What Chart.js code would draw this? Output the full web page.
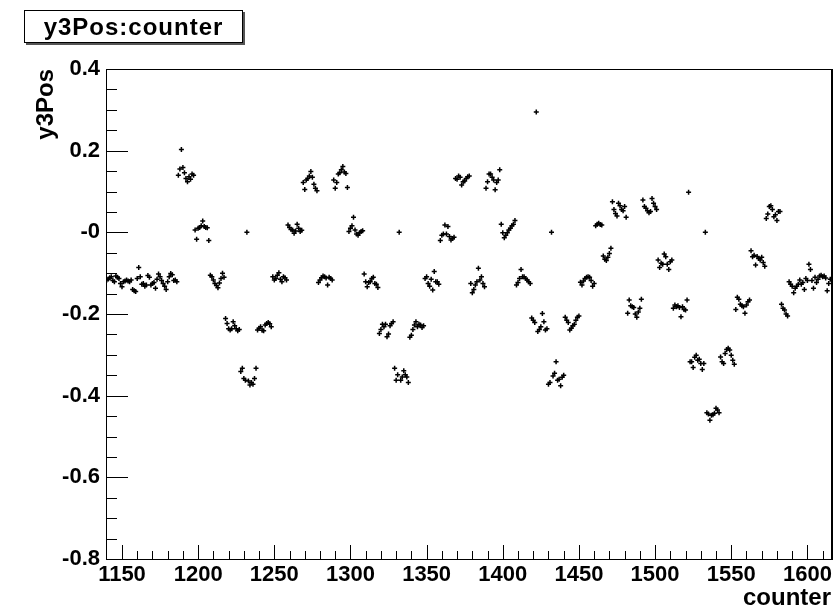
<!DOCTYPE html>
<html>
<head>
<meta charset="utf-8">
<script src="https://cdn.jsdelivr.net/npm/chart.js@4.4.0/dist/chart.umd.min.js"></script>
<style>
body { margin: 0; background: #fff; }
#wrap { position: relative; width: 840px; height: 613px; }
#title {
	position: absolute; left: 24px; top: 10px; width: 217px; height: 31px;
	border: 1px solid #000; box-shadow: 2px 2px 0 #555; background: #fff;
	font: bold 24px "Liberation Sans", Arial, sans-serif; letter-spacing: 1px;
	text-align: center; line-height: 31px;
}
</style>
</head>
<body>
<div id="wrap">
	<canvas id="myChart"></canvas>
	<div id="title">y3Pos:counter</div>
</div>
<script>
// tree entries: one y3Pos value per counter, starting at firstCounter
const firstCounter = 1140;
const y3Pos = [
	// 1140
	-0.117,-0.114,-0.111,-0.109,-0.118,-0.121,-0.107,-0.110,-0.113,-0.125,
	-0.133,-0.121,-0.119,-0.117,-0.119,-0.121,-0.117,-0.140,-0.143,-0.145,
	-0.113,-0.086,-0.109,-0.127,-0.125,-0.132,-0.129,-0.106,-0.110,-0.129,
	-0.125,-0.123,-0.137,-0.115,-0.102,-0.109,-0.118,-0.125,-0.132,-0.140,
	-0.121,-0.109,-0.101,-0.104,-0.118,-0.117,-0.121,
	// 1187
	0.140,0.155,0.203,0.159,0.146,0.132,0.124,0.136,0.130,0.143,0.140,
	// 1198
	0.006,-0.017,0.010,0.012,0.016,0.028,0.014,0.012,0.011,-0.020,
	-0.105,-0.109,-0.117,-0.125,-0.130,-0.136,-0.124,-0.113,-0.100,-0.110,
	-0.211,-0.223,-0.236,-0.239,-0.236,-0.219,-0.229,-0.236,-0.241,-0.238,
	// 1228
	-0.341,-0.333,-0.358,-0.362,0.0,-0.364,-0.374,-0.368,-0.372,-0.358,-0.333,
	// 1239
	-0.239,-0.235,-0.231,-0.240,-0.241,-0.227,-0.223,-0.221,-0.224,-0.231,
	-0.109,-0.117,-0.113,-0.105,-0.099,-0.115,-0.121,-0.109,-0.111,-0.117,
	0.018,0.012,0.007,0.006,-0.002,0.003,0.020,0.010,0.002,0.005,
	0.122,0.105,0.128,0.132,0.138,0.149,0.135,0.118,0.108,0.102,
	-0.123,-0.117,-0.111,-0.107,-0.109,-0.112,-0.129,-0.110,-0.113,-0.117,
	0.128,0.108,0.122,0.143,0.146,0.153,0.161,0.148,0.144,0.110,
	// 1299
	0.002,0.010,0.016,0.037,0.006,-0.004,-0.007,-0.001,0.002,0.004,
	-0.102,-0.121,-0.133,-0.123,-0.121,-0.113,-0.110,-0.125,-0.127,-0.135,
	-0.248,-0.238,-0.225,-0.231,-0.225,-0.256,-0.249,-0.229,-0.223,-0.219,
	-0.333,-0.362,-0.349,0.0,-0.362,-0.354,-0.339,-0.349,-0.354,-0.368,
	-0.257,-0.252,-0.238,-0.227,-0.219,-0.231,-0.225,-0.227,-0.233,-0.229,
	-0.113,-0.109,-0.125,-0.132,-0.115,-0.141,-0.096,-0.121,-0.121,-0.127,
	-0.020,-0.007,-0.004,0.018,-0.004,0.014,-0.010,-0.019,-0.015,-0.012,
	0.132,0.130,0.138,0.135,0.116,0.124,0.126,0.132,0.136,0.138,
	-0.125,-0.148,-0.140,-0.129,-0.121,-0.088,-0.117,-0.109,-0.125,-0.133,
	0.108,0.124,0.143,0.143,0.135,0.128,0.104,0.122,0.128,0.153,
	// 1399
	0.020,-0.001,-0.013,-0.007,-0.001,0.006,0.010,0.016,0.020,0.029,
	-0.129,-0.123,-0.113,-0.091,-0.109,-0.109,-0.113,-0.117,-0.121,-0.125,
	// 1419
	-0.210,-0.215,-0.221,0.295,-0.243,-0.238,-0.231,-0.199,-0.219,-0.239,-0.236,
	-0.372,-0.368,0.0,-0.352,-0.345,-0.317,-0.362,-0.360,-0.376,-0.355,-0.350,
	// 1441
	-0.208,-0.215,-0.221,-0.239,-0.235,-0.229,-0.225,-0.215,-0.208,-0.205,
	-0.122,-0.129,-0.119,-0.113,-0.110,-0.109,-0.110,-0.118,-0.132,-0.125,
	0.016,0.020,0.022,0.019,0.018,
	-0.058,-0.066,-0.069,-0.061,-0.052,-0.039,
	// 1472
	0.075,0.056,0.046,0.040,0.071,0.065,0.056,0.053,0.063,0.037,
	-0.198,-0.166,-0.180,-0.182,-0.184,-0.200,-0.208,-0.195,-0.186,-0.164,
	0.079,0.063,0.059,0.053,0.048,0.051,0.083,0.071,0.063,0.056,
	-0.068,-0.086,-0.076,-0.078,-0.053,-0.060,-0.078,-0.091,-0.072,-0.068,
	-0.186,-0.178,-0.182,-0.180,-0.184,-0.207,-0.182,-0.189,-0.190,-0.166,
	0.098,
	// 1523
	-0.317,-0.317,-0.331,-0.306,-0.301,-0.313,-0.311,-0.321,-0.336,-0.321,
	0.0,
	-0.442,-0.445,-0.460,-0.448,-0.447,-0.443,-0.431,-0.435,-0.442,
	// 1543
	-0.305,-0.317,-0.321,-0.297,-0.287,-0.284,-0.288,-0.301,-0.313,-0.323,
	-0.189,-0.159,-0.164,-0.176,-0.180,-0.182,-0.198,-0.178,-0.170,-0.166,
	-0.045,-0.060,-0.056,-0.080,-0.059,-0.064,-0.068,-0.061,-0.074,-0.083,
	0.034,0.045,0.063,0.065,0.056,0.038,0.043,0.029,0.051,0.051,
	-0.176,-0.186,-0.190,-0.200,-0.205,
	// 1588
	-0.121,-0.127,-0.132,-0.148,-0.137,-0.132,-0.127,-0.117,-0.127,-0.123,
	-0.140,-0.113,-0.118,-0.078,-0.091,-0.118,-0.137,-0.110,-0.123,-0.115,
	-0.107,-0.105,-0.109,-0.107,-0.112,-0.143,-0.125,-0.115
];

const xTicks = [1150, 1200, 1250, 1300, 1350, 1400, 1450, 1500, 1550, 1600];
const yTicks = [-0.8, -0.6, -0.4, -0.2, 0, 0.2, 0.4];
const yLabels = ['-0.8', '-0.6', '-0.4', '-0.2', '-0', '0.2', '0.4'];

const FONT = '"Liberation Sans", Arial, sans-serif';

// ROOT style frame with ticks pointing inside
const rootFrame = {
	id: 'rootFrame',
	afterDatasetsDraw(chart) {
		const ctx = chart.ctx;
		const a = chart.chartArea;
		const xs = chart.scales.x, ys = chart.scales.y;
		ctx.save();
		ctx.strokeStyle = '#000';
		ctx.lineWidth = 1;
		ctx.strokeRect(a.left + 0.5, a.top + 0.5, a.right - a.left, a.bottom - a.top);
		ctx.beginPath();
		for (let k = 0; k <= 24; k++) {
			let py = Math.round(ys.getPixelForValue(-0.8 + k * 0.05)) + 0.5;
			let len = (k % 4 == 0) ? 22 : 11;
			ctx.moveTo(a.left, py);
			ctx.lineTo(a.left + len, py);
		}
		for (let c = 1150; c <= 1610; c += 10) {
			let px = Math.round(xs.getPixelForValue(c)) + 0.5;
			let len = (c % 50 == 0) ? 14 : 8;
			ctx.moveTo(px, a.bottom);
			ctx.lineTo(px, a.bottom - len);
		}
		ctx.stroke();
		ctx.lineWidth = 2;
		ctx.beginPath();
		ctx.moveTo(a.right + 1, a.top);
		ctx.lineTo(a.right + 1, a.bottom + 1);
		ctx.stroke();
		ctx.restore();
	}
};

let points = y3Pos.map((v, i) => ({x: firstCounter + i, y: v}));

let ctx = document.getElementById('myChart');
let myChart = new Chart(ctx, {
	type: 'scatter',
	data: {
		datasets: [{
			label: 'y3Pos:counter',
			data: points,
			pointStyle: 'cross',
			pointRadius: 2.5,
			pointBorderWidth: 1.5,
			borderColor: '#000',
			backgroundColor: '#000'
		}]
	},
	options: {
		responsive: true,
		maintainAspectRatio: false,
		animation: false,
		events: [],
		layout: {padding: {top: 69, right: 9, left: 0, bottom: 0}},
		plugins: {legend: {display: false}, tooltip: {enabled: false}},
		scales: {
			x: {
				type: 'linear',
				min: 1139.5,
				max: 1615.5,
				afterFit: s => { s.height = 54; },
				afterBuildTicks: s => { s.ticks = xTicks.map(v => ({value: v})); },
				grid: {display: false, drawTicks: false},
				border: {display: false},
				ticks: {
					color: '#000', padding: 3, maxRotation: 0, autoSkip: false,
					font: {family: FONT, size: 22, weight: 'bold'},
					callback: v => String(v)
				},
				title: {
					display: true, text: 'counter', align: 'end', color: '#000',
					font: {family: FONT, size: 24, weight: 'bold'},
					padding: {top: 0, bottom: 0}
				}
			},
			y: {
				min: -0.8,
				max: 0.4,
				afterFit: s => { s.width = 106; },
				afterBuildTicks: s => { s.ticks = yTicks.map(v => ({value: v})); },
				grid: {display: false, drawTicks: false},
				border: {display: false},
				ticks: {
					color: '#000', padding: 6, autoSkip: false,
					font: {family: FONT, size: 22, weight: 'bold'},
					callback: (v, i) => yLabels[i]
				},
				title: {
					display: true, text: 'y3Pos', align: 'end', color: '#000',
					font: {family: FONT, size: 24, weight: 'bold'},
					padding: {top: 32, bottom: 0}
				}
			}
		}
	},
	plugins: [rootFrame]
});
</script>
</body>
</html>
